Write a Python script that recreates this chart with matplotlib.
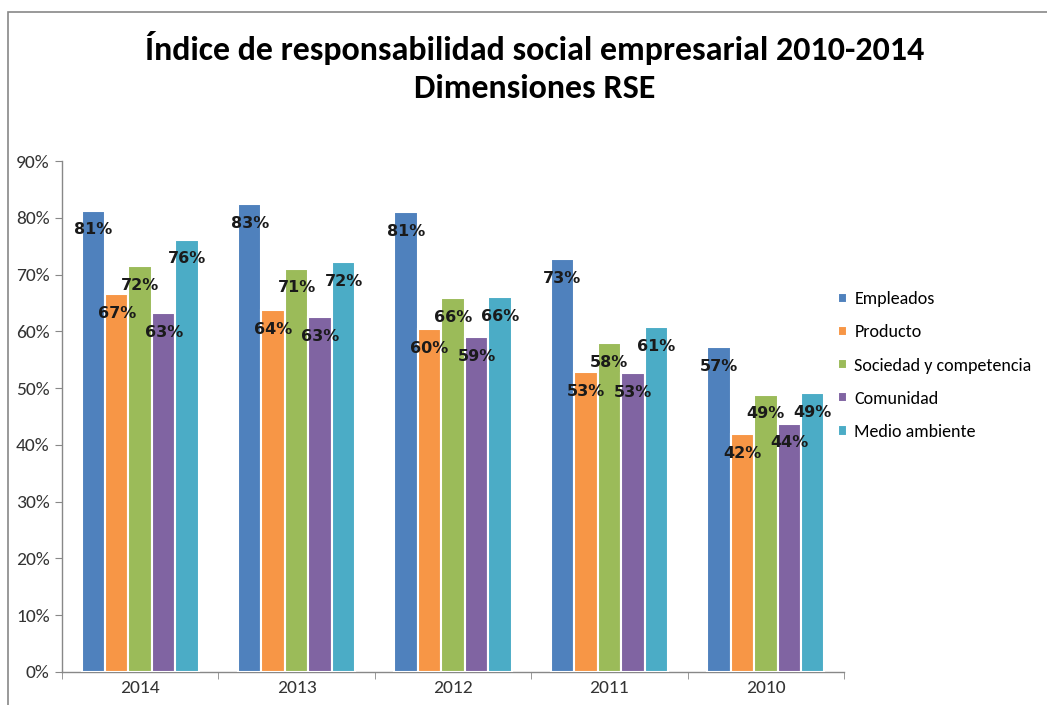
import matplotlib
matplotlib.use("Agg")
import matplotlib.pyplot as plt
from matplotlib.patches import Rectangle
import numpy as np
from matplotlib import font_manager

names = {f.name for f in font_manager.fontManager.ttflist}
body_font = "Carlito" if "Carlito" in names else "Lato"
title_font = "Liberation Sans Narrow" if "Liberation Sans Narrow" in names else body_font

years = ["2014", "2013", "2012", "2011", "2010"]
series_names = ["Empleados", "Producto", "Sociedad y competencia", "Comunidad", "Medio ambiente"]
empleados = [81.2, 82.4, 81.0, 72.7, 57.2]
producto = [66.5, 63.7, 60.4, 52.8, 41.9]
sociedad = [71.5, 71.0, 65.8, 57.9, 48.8]
comunidad = [63.2, 62.5, 59.0, 52.6, 43.7]
medio = [76.1, 72.2, 66.0, 60.7, 49.1]
labels_emp = ["81%", "83%", "81%", "73%", "57%"]
labels_pro = ["67%", "64%", "60%", "53%", "42%"]
labels_soc = ["72%", "71%", "66%", "58%", "49%"]
labels_com = ["63%", "63%", "59%", "53%", "44%"]
labels_med = ["76%", "72%", "66%", "61%", "49%"]

series = [empleados, producto, sociedad, comunidad, medio]
series_labels = [labels_emp, labels_pro, labels_soc, labels_com, labels_med]
colors = ["#4F81BD", "#F79646", "#9BBB59", "#8064A2", "#4BACC6"]

W, H = 1047, 705
fig = plt.figure(figsize=(W / 100, H / 100), dpi=100)
fig.patch.set_facecolor("white")

# outer frame
fig.add_artist(Rectangle((8 / W, -0.05), 1.2, (H - 12) / H + 0.05, transform=fig.transFigure,
                         fill=False, edgecolor="#888888", linewidth=1.2))

ax = fig.add_axes([62 / W, (H - 672) / H, (844 - 62) / W, (672 - 161) / H])
x = np.arange(len(years))
bw = 0.15
for i, (vals, labs, c, nm) in enumerate(zip(series, series_labels, colors, series_names)):
    pos = x + (i - 2) * bw
    bars = ax.bar(pos, vals, width=bw, color=c, edgecolor="white", linewidth=1.5, label=nm, zorder=3)
    for b, lab in zip(bars, labs):
        ax.annotate(lab, (b.get_x() + b.get_width() / 2, b.get_height()), xytext=(0, -19),
                    textcoords="offset pixels", ha="center", va="center",
                    fontsize=11.5, fontweight="bold", family="DejaVu Sans", color="#1a1a1a", zorder=5)

ax.set_xlim(-0.5, len(years) - 0.5)
ax.set_ylim(0, 90)
ax.set_yticks(np.arange(0, 91, 10))
ax.set_yticklabels([f"{v}%" for v in range(0, 91, 10)], family=body_font, fontsize=14, color="#333333")
ax.set_xticks(x)
ax.set_xticklabels(years, family=body_font, fontsize=14, color="#333333")
ax.set_xticks(np.arange(-0.5, len(years)), minor=True)
ax.tick_params(axis="x", which="major", length=0, pad=6)
ax.tick_params(axis="x", which="minor", length=5, color="#888888", direction="out")
ax.tick_params(axis="y", length=5, color="#888888", direction="out", pad=4)
for s in ["top", "right"]:
    ax.spines[s].set_visible(False)
for s in ["left", "bottom"]:
    ax.spines[s].set_color("#888888")
    ax.spines[s].set_linewidth(1.0)

leg = ax.legend(loc="upper left", bbox_to_anchor=(822 / W, (H - 275) / H), bbox_transform=fig.transFigure,
                frameon=False, prop={"family": body_font, "size": 13}, handlelength=0.5, handleheight=0.5,
                handletextpad=0.4, labelspacing=0.95)

fig.text(535 / W, 1 - 48 / H, "Índice de responsabilidad social empresarial 2010-2014",
         ha="center", va="center", fontsize=24.5, fontweight="bold", family=title_font)
fig.text(535 / W, 1 - 88 / H, "Dimensiones RSE",
         ha="center", va="center", fontsize=24.5, fontweight="bold", family=title_font)

fig.savefig("out.png", dpi=100)
